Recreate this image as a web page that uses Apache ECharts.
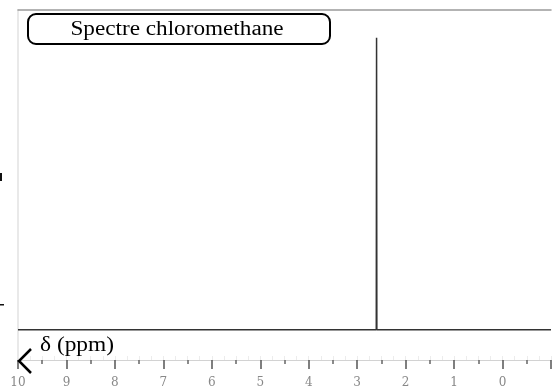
<!DOCTYPE html>
<html>
<head>
<meta charset="utf-8">
<script src="https://cdn.jsdelivr.net/npm/echarts@6/dist/echarts.min.js"></script>
<style>
html,body{margin:0;padding:0;background:#fff;}
#chart{width:554px;height:389px;}
</style>
</head>
<body>
<div id="chart"></div>
<script>
// Data (chemical shift in ppm, relative intensity)
const shifts = [10, 2.606, 2.6, 2.594, -1];
const intensities = [0, 0, 100, 0, 0];
const tickValues = [10, 9, 8, 7, 6, 5, 4, 3, 2, 1, 0];
const titleText = 'Spectre chloromethane';
const axisTitle = 'δ (ppm)';

const seriesData = shifts.map((s, i) => [s, intensities[i]]);

const chart = echarts.init(document.getElementById('chart'), null, {renderer: 'canvas'});
chart.setOption({
  animation: false,
  backgroundColor: '#fff',
  grid: {left: 18, right: 2, top: 10, bottom: 27, containLabel: false},
  xAxis: [
    {
      type: 'value', inverse: true, min: -1, max: 10, interval: 1,
      position: 'bottom',
      axisLine: {show: true, onZero: false, lineStyle: {color: '#d2d2d2', width: 1}},
      axisTick: {show: true, inside: false, length: 9, lineStyle: {color: '#555', width: 1.5}},
      minorTick: {show: true, splitNumber: 2, length: 4, lineStyle: {color: '#666', width: 1.5}},
      axisLabel: {
        margin: 17, color: '#888', fontSize: 12, fontFamily: 'DejaVu Serif',
        formatter: v => tickValues.indexOf(Math.round(v)) >= 0 && v >= 0 ? String(Math.round(v)) : ''
      },
      splitLine: {show: false}
    },
    {
      type: 'value', inverse: true, min: -1, max: 10, interval: 0.25,
      position: 'bottom',
      axisLine: {show: false, onZero: false},
      axisTick: {show: true, inside: true, length: 4, lineStyle: {color: '#ececec', width: 1}},
      axisLabel: {show: false},
      splitLine: {show: false}
    },
    {
      type: 'value', inverse: true, min: -1, max: 10,
      position: 'top',
      axisLine: {show: true, onZero: false, lineStyle: {color: '#9a9a9a', width: 1.5}},
      axisTick: {show: false}, axisLabel: {show: false}, splitLine: {show: false}
    }
  ],
  yAxis: {
    type: 'value', min: -10.4, max: 109.5, position: 'left',
    axisLine: {show: true, onZero: false, lineStyle: {color: '#e2e2e2', width: 1.5}},
    axisTick: {show: false}, axisLabel: {show: false}, splitLine: {show: false}
  },
  series: [{
    type: 'line', xAxisIndex: 0, data: seriesData, symbol: 'none',
    lineStyle: {color: '#333', width: 1.5}
  }],
  graphic: [
    {type: 'rect', shape: {x: 28, y: 14, width: 302, height: 30, r: 8},
     style: {fill: '#fff', stroke: '#000', lineWidth: 2}, z: 10},
    {type: 'text', x: 177, y: 30, scaleX: 1.16,
     style: {text: titleText, font: '20px "Liberation Serif"', fill: '#000', align: 'center', verticalAlign: 'middle'}, z: 11},
    {type: 'text', x: 40, y: 346, scaleX: 1.17,
     style: {text: axisTitle, font: '20px "Liberation Serif"', fill: '#000', align: 'left', verticalAlign: 'middle'}, z: 11},
    {type: 'polyline', shape: {points: [[31, 349], [19, 361], [31, 373]]},
     style: {stroke: '#000', lineWidth: 2.5, fill: null}, z: 11},
    {type: 'rect', shape: {x: 0, y: 173, width: 2, height: 8}, style: {fill: '#111'}, z: 11},
    {type: 'rect', shape: {x: 0, y: 304, width: 4, height: 1.5}, style: {fill: '#111'}, z: 11}
  ]
});
</script>
</body>
</html>
